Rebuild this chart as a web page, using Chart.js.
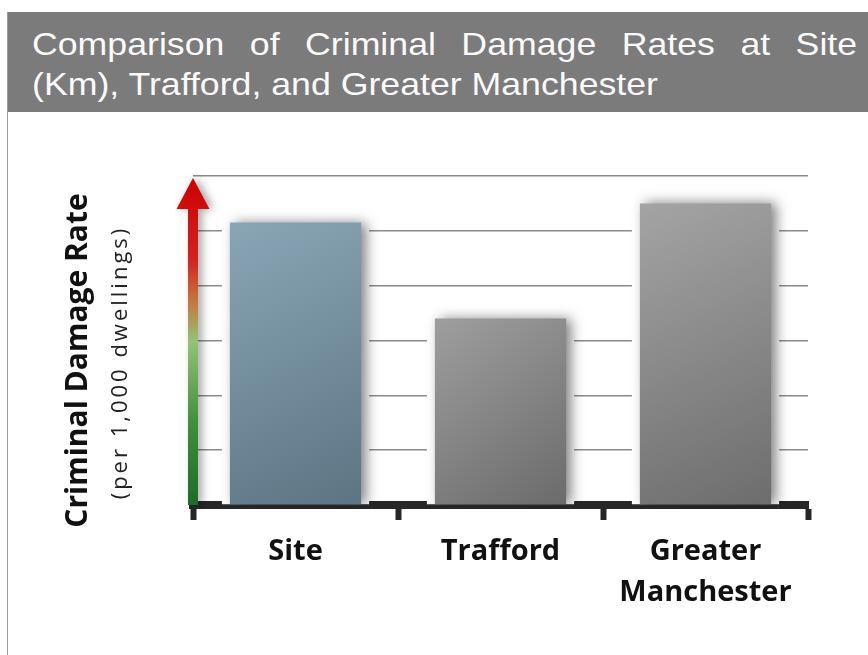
<!DOCTYPE html>
<html>
<head>
<meta charset="utf-8">
<script src="https://cdn.jsdelivr.net/npm/chart.js@4.4.1/dist/chart.umd.min.js"></script>
<style>
  html, body { margin: 0; padding: 0; background: #fff; }
  body { width: 868px; height: 655px; position: relative; overflow: hidden; }
  #panel { position: absolute; left: 7px; top: 12px; width: 900px; height: 700px; border-left: 1px solid #9a9a9a; }
  #titleBar { position: absolute; left: 8px; top: 12px; width: 860px; height: 100px; background: #7b7b7b;
    color: #fafafa; font-family: "Liberation Sans", Arial, sans-serif; font-size: 32px; }
  #titleBar div { position: absolute; left: 24px; width: 740px; line-height: 40px;
    transform: scaleX(1.115); transform-origin: 0 0; }
  #titleBar .l1 { top: 12px; text-align: justify; text-align-last: justify; }
  #titleBar .l2 { top: 52px; }
  #dailyChart { position: absolute; left: 0; top: 112px; }
</style>
</head>
<body>
<div id="panel"></div>
<div id="titleBar">
  <div class="l1">Comparison of Criminal Damage Rates at Site</div>
  <div class="l2">(Km), Trafford, and Greater Manchester</div>
</div>
<canvas id="dailyChart" width="868" height="543"></canvas>
<script>
const categories = [['Site'], ['Trafford'], ['Greater', 'Manchester']];
const damageRates = [5.15, 3.4, 5.5];
const yTicks = [0, 1, 2, 3, 4, 5, 6];
const yTitle = 'Criminal Damage Rate';
const ySubtitle = '(per 1,000 dwellings)';

// light / dark end of each bar's gradient
const barColours = [['#8aa5b5', '#5b7583'], ['#9e9e9e', '#6b6b6b'], ['#a4a4a4', '#6d6d6d']];
const BAR_PCT = 0.64;

const barGradient = (context) => {
  const chart = context.chart;
  const i = context.dataIndex;
  const pair = barColours[i] || barColours[0];
  const xScale = chart.scales.x;
  const yScale = chart.scales.y;
  if (!chart.chartArea || !xScale || !yScale || i === undefined) return pair[1];
  const cx = xScale.getPixelForValue(i);
  const half = xScale.width / categories.length * BAR_PCT / 2;
  const top = yScale.getPixelForValue(damageRates[i]);
  const bottom = yScale.getPixelForValue(0);
  const g = chart.ctx.createLinearGradient(cx - half, top, cx + half, bottom);
  g.addColorStop(0, pair[0]);
  g.addColorStop(1, pair[1]);
  return g;
};

// white glow behind the bars and a soft shadow while drawing them
const barHalo = {
  id: 'barHalo',
  beforeDatasetsDraw(chart) {
    const ctx = chart.ctx;
    ctx.save();
    ctx.fillStyle = '#fff';
    chart.getDatasetMeta(0).data.forEach(bar => {
      const { x, y, width, base } = bar.getProps(['x', 'y', 'width', 'base'], true);
      ctx.fillRect(x - width / 2 - 8, y - 8, width + 16, base - y + 8);
    });
    ctx.restore();
    ctx.save();
    ctx.shadowColor = 'rgba(0,0,0,0.5)';
    ctx.shadowBlur = 12;
    ctx.shadowOffsetX = 5;
  },
  afterDatasetsDraw(chart) {
    const ctx = chart.ctx;
    ctx.restore();

    // gradient arrow used as the y axis
    const area = chart.chartArea;
    const x = area.left;
    const tip = area.top + 2;
    const headBase = tip + 31;
    const g = ctx.createLinearGradient(0, area.bottom, 0, tip);
    g.addColorStop(0, '#1f6b27');
    g.addColorStop(0.25, '#3f8f3b');
    g.addColorStop(0.5, '#95c276');
    g.addColorStop(0.62, '#c4793d');
    g.addColorStop(0.75, '#d42222');
    g.addColorStop(1, '#cf0000');
    ctx.save();
    ctx.shadowColor = 'rgba(0,0,0,0.35)';
    ctx.shadowBlur = 8;
    ctx.shadowOffsetX = 4;
    ctx.fillStyle = g;
    ctx.beginPath();
    ctx.moveTo(x - 5, area.bottom);
    ctx.lineTo(x - 5, headBase);
    ctx.lineTo(x - 16.5, headBase);
    ctx.lineTo(x, tip);
    ctx.lineTo(x + 16.5, headBase);
    ctx.lineTo(x + 5, headBase);
    ctx.lineTo(x + 5, area.bottom);
    ctx.closePath();
    ctx.fill();
    ctx.restore();
  },
  afterDraw(chart) {
    const ctx = chart.ctx;
    const area = chart.chartArea;
    const cy = (area.top + area.bottom) / 2 + 20;
    ctx.save();
    ctx.textAlign = 'center';
    ctx.textBaseline = 'middle';
    ctx.translate(area.left - 115, cy);
    ctx.rotate(-Math.PI / 2);
    ctx.fillStyle = '#111';
    ctx.font = 'bold 30px "Open Sans"';
    ctx.fillText(yTitle, 0, 0);
    ctx.restore();

    ctx.save();
    ctx.textAlign = 'center';
    ctx.textBaseline = 'middle';
    ctx.translate(area.left - 72, cy + 2);
    ctx.rotate(-Math.PI / 2);
    ctx.fillStyle = '#222';
    ctx.font = '22px "Open Sans"';
    ctx.letterSpacing = '3px';
    ctx.fillText(ySubtitle, 0, 0);
    ctx.restore();
  }
};

const ctx = document.getElementById('dailyChart').getContext('2d');

new Chart(ctx, {
  type: 'bar',
  data: {
    labels: categories,
    datasets: [{
      label: yTitle,
      data: damageRates,
      backgroundColor: barGradient,
      borderWidth: 0,
      barPercentage: BAR_PCT,
      categoryPercentage: 1
    }]
  },
  options: {
    responsive: false,
    animation: false,
    layout: { padding: { left: 193, right: 60, top: 64, bottom: 0 } },
    plugins: {
      legend: { display: false },
      tooltip: { enabled: false }
    },
    scales: {
      x: {
        z: 1,
        grid: { drawOnChartArea: false, drawTicks: true, tickLength: 15, tickWidth: 6, tickColor: '#262626' },
        border: { display: true, color: '#262626', width: 8 },
        ticks: {
          color: '#111',
          font: { family: 'Open Sans', size: 29, weight: 'bold', lineHeight: 1.42 },
          padding: 11,
          maxRotation: 0,
          autoSkip: false
        },
        afterFit: (scale) => { scale.height = 150; }
      },
      y: {
        min: yTicks[0],
        max: yTicks[yTicks.length - 1],
        afterBuildTicks: (scale) => { scale.ticks = yTicks.map(v => ({ value: v })); },
        ticks: { display: false },
        grid: { color: '#8a8a8a', lineWidth: 1.5, drawTicks: false },
        border: { display: false }
      }
    }
  },
  plugins: [barHalo]
});
</script>
</body>
</html>
